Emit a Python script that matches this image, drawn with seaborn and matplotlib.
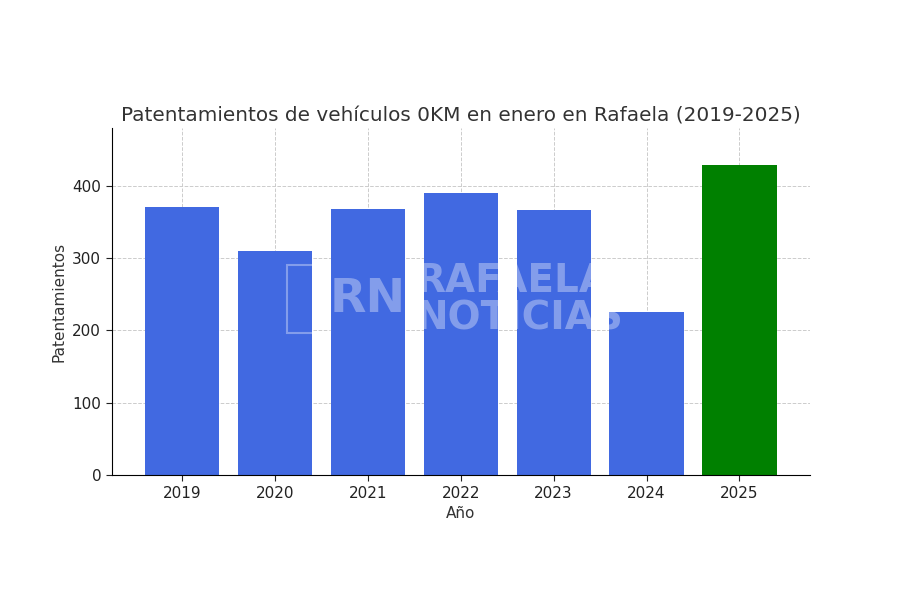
import matplotlib
matplotlib.use("Agg")
import matplotlib.pyplot as plt
import seaborn as sns
import pandas as pd
from matplotlib.patches import Rectangle

# datos
anios = ["2019", "2020", "2021", "2022", "2023", "2024", "2025"]
patentamientos = [370, 309, 368, 390, 366, 225, 428]
colores = ["royalblue"] * 6 + ["green"]

df = pd.DataFrame({"Año": anios, "Patentamientos": patentamientos})

sns.set_style("ticks")
plt.rcParams["font.family"] = ["DejaVu Sans"]

fig = plt.figure(figsize=(9, 6), dpi=100)
ax = fig.add_axes([0.124, 0.208, 0.776, 0.578])

sns.barplot(data=df, x="Año", y="Patentamientos", hue="Año", palette=colores,
            legend=False, width=0.8, saturation=1, linewidth=0, ax=ax, zorder=2)

ax.set_xlim(-0.76, 6.76)
ax.set_ylim(0, 479)
ax.set_yticks([0, 100, 200, 300, 400])
ax.grid(True, linestyle="--", color="#cccccc", linewidth=0.7)
for line in ax.get_xgridlines() + ax.get_ygridlines():
    line.set_zorder(3)
sns.despine(ax=ax)
ax.spines["left"].set_color("black")
ax.spines["bottom"].set_color("black")

ax.tick_params(axis="both", labelsize=11, colors="#222222", length=4)
ax.set_xlabel("Año", fontsize=11, color="#333333")
ax.set_ylabel("Patentamientos", fontsize=11, color="#333333")
ax.set_title("Patentamientos de vehículos 0KM en enero en Rafaela (2019-2025)",
             fontsize=14.4, color="#333333", pad=5)

# marca de agua
fig.patches.append(Rectangle((287 / 900, 1 - 333 / 600), 43 / 900, 68 / 600,
                             transform=fig.transFigure, fill=False,
                             edgecolor="white", alpha=0.35, linewidth=1.5,
                             zorder=5))
fig.text(330 / 900, 1 - 300 / 600, "RN", fontsize=34, fontweight="heavy",
         color="white", alpha=0.35, ha="left", va="center", zorder=5)
fig.text(415 / 900, 1 - 300 / 600, "RAFAELA\nNOTICIAS", fontsize=28,
         fontweight="heavy", color="white", alpha=0.35, ha="left",
         va="center", linespacing=1.0, zorder=5)

fig.savefig("out.png", dpi=100)
